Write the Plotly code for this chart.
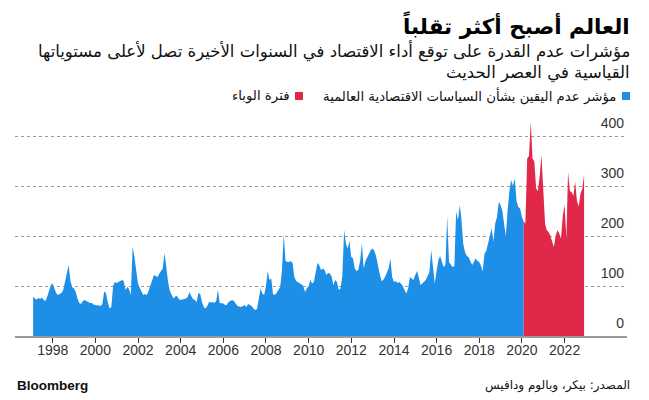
import plotly.graph_objects as go
import pandas as pd

# Global Economic Policy Uncertainty index, monthly
pre_pandemic = [
    # 1997
    79, 75, 73, 76, 74, 77, 72, 70, 79, 92, 102, 105,
    # 1998
    96, 86, 82, 84, 86, 92, 108, 125, 142, 110, 98, 95,
    # 1999
    88, 75, 66, 64, 70, 72, 70, 68, 66, 66, 63, 62,
    # 2000
    62, 61, 60, 64, 89, 86, 68, 55, 58, 100, 108, 106,
    # 2001
    108, 110, 112, 110, 92, 98, 94, 82, 179, 158, 125, 105,
    # 2002
    96, 90, 82, 84, 82, 90, 102, 115, 122, 120, 118, 125,
    # 2003
    130, 135, 166, 130, 108, 90, 82, 75, 79, 80, 74, 72,
    # 2004
    73, 74, 75, 78, 88, 80, 74, 72, 68, 86, 84, 68,
    # 2005
    58, 55, 60, 68, 67, 68, 66, 70, 92, 66, 66, 65,
    # 2006
    62, 62, 68, 70, 72, 70, 65, 60, 59, 58, 60, 62,
    # 2007
    58, 64, 62, 60, 55, 52, 54, 75, 95, 85, 82, 100,
    # 2008
    130, 112, 115, 84, 82, 86, 92, 98, 130, 204, 150, 148,
    # 2009
    148, 150, 146, 118, 110, 108, 105, 103, 100, 88, 95, 100,
    # 2010
    112, 105, 108, 125, 146, 142, 132, 135, 132, 122, 126, 125,
    # 2011
    118, 102, 112, 108, 92, 95, 120, 212, 185, 175, 190, 158,
    # 2012
    155, 135, 130, 132, 150, 185, 135, 150, 158, 165, 172, 175,
    # 2013
    170, 160, 140, 125, 110, 112, 118, 125, 135, 155, 118, 108,
    # 2014
    110, 106, 108, 105, 100, 92, 85, 95, 118, 115, 112, 122,
    # 2015
    130, 118, 102, 105, 108, 112, 120, 128, 172, 130, 105, 130,
    # 2016
    152, 160, 150, 138, 142, 239, 148, 142, 138, 140, 249, 232,
    # 2017
    262, 235, 185, 168, 160, 158, 150, 142, 148, 155, 150, 148,
    # 2018
    140, 129, 165, 170, 185, 200, 215, 190, 225, 238, 268, 262,
    # 2019
    250, 225, 200, 250, 290, 312, 300, 315, 270, 258, 255, 238,
]

pandemic = [
    # 2020
    229, 225, 355, 360, 428, 355, 349, 295, 290, 320, 362, 285,
    # 2021
    225, 212, 208, 201, 190, 178, 200, 212, 205, 195, 240, 262,
    # 2022
    195, 328, 290, 288, 280, 309, 270, 259, 285, 295, 322,
]

pre_start = "1997-01-31"
pandemic_start = "2020-01-31"

y_ticks = [0, 100, 200, 300, 400]

title = "العالم أصبح أكثر تقلباً"
subtitle_1 = "مؤشرات عدم القدرة على توقع أداء الاقتصاد في السنوات الأخيرة تصل لأعلى مستوياتها"
subtitle_2 = "القياسية في العصر الحديث"
legend_blue = "مؤشر عدم اليقين بشأن السياسات الاقتصادية العالمية"
legend_red = "فترة الوباء"
source = "المصدر: بيكر، وبالوم ودافيس"

BLUE = "#1e8fe6"
RED = "#e2284a"

pre_dates = pd.date_range(pre_start, periods=len(pre_pandemic) + 1, freq="ME")
pan_dates = pd.date_range(pandemic_start, periods=len(pandemic), freq="ME")

fig = go.Figure()
fig.add_trace(go.Scatter(
    x=pre_dates, y=pre_pandemic + [pandemic[0]], mode="lines",
    line=dict(width=0, color=BLUE), fill="tozeroy", fillcolor=BLUE,
    hoverinfo="skip", showlegend=False))
fig.add_trace(go.Scatter(
    x=pan_dates, y=pandemic, mode="lines",
    line=dict(width=0, color=RED), fill="tozeroy", fillcolor=RED,
    hoverinfo="skip", showlegend=False))

# page body adds an 8px offset; figure coordinates = page coordinates - 8
OFF = 8
W, H = 649 - OFF, 400 - OFF
L, R, T, B = 15 - OFF, 22, 106 - OFF, 64
pw, ph = W - L - R, H - T - B

def px(x):
    return (x - OFF - L) / pw

def py(y):
    return (H - B - (y - OFF)) / ph

AR = "DejaVu Sans"
annotations = [
    dict(text="<b>" + title + "</b>", x=px(632), y=py(25), font=dict(size=21.5, color="#000", family=AR)),
    dict(text=subtitle_1, x=px(632), y=py(51), font=dict(size=16.5, color="#111", family=AR)),
    dict(text=subtitle_2, x=px(632), y=py(73), font=dict(size=16.5, color="#111", family=AR)),
    dict(text=legend_blue, x=px(618), y=py(96), font=dict(size=13.3, color="#111", family=AR)),
    dict(text=legend_red, x=px(292), y=py(96), font=dict(size=13.3, color="#111", family=AR)),
    dict(text=source, x=px(632), y=py(385), font=dict(size=12, color="#111", family=AR)),
]
for a in annotations:
    a.update(xref="paper", yref="paper", xanchor="right", yanchor="middle", showarrow=False)
annotations.append(dict(text="<b>Bloomberg</b>", x=px(15), y=py(385), xref="paper", yref="paper",
                        xanchor="left", yanchor="middle", showarrow=False,
                        font=dict(size=13.5, color="#111", family="Liberation Sans")))

shapes = [
    dict(type="rect", xref="paper", yref="paper", x0=px(622), x1=px(630), y0=py(92), y1=py(100),
         fillcolor=BLUE, line=dict(width=0)),
    dict(type="rect", xref="paper", yref="paper", x0=px(295), x1=px(303), y0=py(92), y1=py(100),
         fillcolor=RED, line=dict(width=0)),
]

fig.update_layout(
    width=W, height=H,
    margin=dict(l=L, r=R, t=T, b=B),
    paper_bgcolor="white", plot_bgcolor="white",
    showlegend=False,
    annotations=annotations, shapes=shapes,
    font=dict(family="Liberation Sans", size=14, color="#333"),
    xaxis=dict(
        type="date", range=["1996-03-26", "2024-12-04"],
        tick0="1998-01-01", dtick="M24", tickformat="%Y",
        ticks="outside", ticklen=5, tickcolor="#333", tickwidth=1,
        showline=True, linecolor="#999", linewidth=2,
        showgrid=False, zeroline=False,
        ticklabelstandoff=-5,
        tickfont=dict(size=14, color="#333", family="Liberation Sans"),
    ),
    yaxis=dict(
        range=[0, 460], side="right", tickvals=y_ticks,
        ticklabelposition="inside top", ticklabelshift=-3,
        showgrid=True, gridcolor="#999", griddash="dot", gridwidth=1,
        zeroline=False, showline=False, ticks="",
        tickfont=dict(size=14, color="#333", family="Liberation Sans"),
    ),
)

fig.write_html("out.html")
